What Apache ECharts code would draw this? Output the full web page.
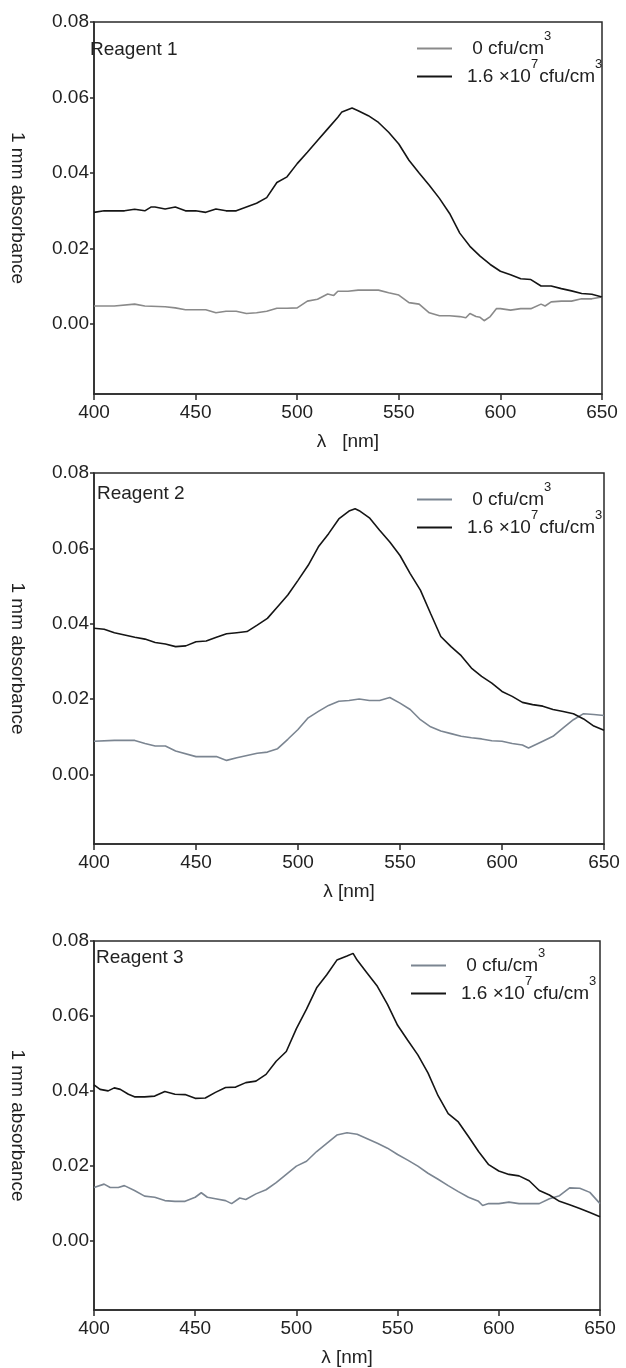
<!DOCTYPE html>
<html>
<head>
<meta charset="utf-8">
<script src="https://cdn.jsdelivr.net/npm/echarts@6/dist/echarts.min.js"></script>
<style>
html,body{margin:0;padding:0;background:#fff;}
#c{width:626px;height:1368px;}
</style>
</head>
<body>
<div id="c"></div>
<script>
// ---- data (wavelength nm, 1 mm absorbance) ----
const xTicks = [400, 450, 500, 550, 600, 650];
const yTicks = [0, 0.02, 0.04, 0.06, 0.08];
const panelTitles = ['Reagent 1', 'Reagent 2', 'Reagent 3'];
const seriesLabels = ['0 cfu/cm3', '1.6 ×10^7 cfu/cm3'];

const reagent1_zero = [[400,0.0048],[410,0.0048],[420,0.0053],[425,0.0048],[435,0.0046],[440,0.0043],[445,0.0038],[455,0.0038],[460,0.0030],[465,0.0034],[470,0.0034],[475,0.0028],[480,0.0030],[485,0.0034],[490,0.0042],[495,0.0042],[500,0.0043],[505,0.0061],[510,0.0066],[515,0.0080],[518,0.0076],[520,0.0087],[525,0.0087],[530,0.0090],[540,0.0090],[545,0.0083],[550,0.0077],[555,0.0057],[560,0.0053],[565,0.0030],[570,0.0022],[575,0.0022],[580,0.0020],[583,0.0017],[585,0.0028],[588,0.0020],[590,0.0018],[592,0.0009],[595,0.0020],[598,0.0041],[600,0.0041],[605,0.0037],[610,0.0041],[615,0.0041],[620,0.0053],[622,0.0048],[625,0.0059],[630,0.0061],[635,0.0061],[640,0.0067],[645,0.0067],[650,0.0072]];
const reagent1_high = [[400,0.0296],[405,0.0300],[410,0.0300],[415,0.0300],[420,0.0304],[425,0.0300],[428,0.0310],[430,0.0310],[435,0.0305],[440,0.0310],[445,0.0300],[450,0.0300],[455,0.0296],[460,0.0305],[465,0.0300],[470,0.0300],[475,0.0310],[480,0.0320],[485,0.0335],[490,0.0375],[495,0.0390],[500,0.0425],[505,0.0455],[510,0.0486],[515,0.0517],[520,0.0548],[522,0.0562],[527,0.0572],[530,0.0565],[535,0.0552],[540,0.0534],[545,0.0508],[550,0.0477],[555,0.0434],[560,0.0400],[565,0.0368],[570,0.0333],[575,0.0293],[580,0.0241],[585,0.0206],[590,0.0180],[595,0.0158],[600,0.0140],[605,0.0131],[610,0.0120],[615,0.0118],[620,0.0101],[625,0.0101],[630,0.0094],[635,0.0088],[640,0.0081],[645,0.0079],[650,0.0072]];

const reagent2_zero = [[400,0.0088],[410,0.0090],[420,0.0090],[425,0.0082],[430,0.0075],[435,0.0075],[440,0.0062],[450,0.0047],[460,0.0047],[465,0.0037],[470,0.0044],[475,0.0050],[480,0.0056],[485,0.0059],[490,0.0068],[495,0.0093],[500,0.0119],[505,0.0150],[510,0.0167],[515,0.0183],[520,0.0194],[525,0.0196],[530,0.0200],[535,0.0196],[540,0.0196],[545,0.0204],[550,0.0189],[555,0.0172],[560,0.0145],[565,0.0126],[570,0.0115],[575,0.0108],[580,0.0101],[585,0.0097],[590,0.0094],[595,0.0089],[600,0.0088],[605,0.0082],[610,0.0078],[613,0.0070],[620,0.0088],[625,0.0101],[630,0.0123],[635,0.0145],[640,0.0161],[645,0.0159],[650,0.0156]];
const reagent2_high = [[400,0.0388],[405,0.0385],[410,0.0376],[415,0.0370],[420,0.0364],[425,0.0359],[430,0.0350],[435,0.0346],[440,0.0339],[445,0.0341],[450,0.0352],[455,0.0354],[460,0.0364],[465,0.0373],[470,0.0376],[475,0.0379],[480,0.0396],[485,0.0414],[490,0.0445],[495,0.0476],[500,0.0515],[505,0.0555],[510,0.0604],[515,0.0639],[520,0.0678],[525,0.0699],[528,0.0705],[530,0.0700],[535,0.0681],[540,0.0648],[545,0.0617],[550,0.0581],[555,0.0533],[560,0.0489],[565,0.0427],[570,0.0366],[575,0.0339],[580,0.0315],[585,0.0282],[590,0.0260],[595,0.0242],[600,0.0220],[605,0.0207],[610,0.0191],[615,0.0185],[620,0.0181],[625,0.0172],[630,0.0167],[635,0.0161],[640,0.0147],[645,0.0128],[650,0.0117]];

const reagent3_zero = [[400,0.0142],[405,0.0151],[408,0.0142],[412,0.0142],[415,0.0147],[420,0.0134],[425,0.0119],[430,0.0116],[435,0.0107],[440,0.0105],[445,0.0105],[450,0.0116],[453,0.0128],[456,0.0116],[460,0.0112],[465,0.0107],[468,0.0099],[472,0.0114],[475,0.0110],[480,0.0125],[485,0.0136],[490,0.0155],[495,0.0177],[500,0.0199],[505,0.0212],[510,0.0238],[515,0.0260],[520,0.0282],[525,0.0288],[530,0.0284],[535,0.0272],[540,0.0260],[545,0.0247],[550,0.0230],[555,0.0215],[560,0.0199],[565,0.0180],[570,0.0164],[575,0.0147],[580,0.0131],[585,0.0116],[590,0.0105],[592,0.0094],[595,0.0099],[600,0.0099],[605,0.0103],[610,0.0099],[620,0.0099],[625,0.0112],[630,0.0120],[635,0.0141],[640,0.0140],[645,0.0129],[650,0.0099]];
const reagent3_high = [[400,0.0416],[403,0.0404],[407,0.0400],[410,0.0408],[413,0.0404],[417,0.0391],[420,0.0384],[425,0.0384],[430,0.0386],[435,0.0398],[440,0.0391],[445,0.0390],[450,0.0380],[455,0.0381],[460,0.0396],[465,0.0409],[470,0.0410],[475,0.0422],[480,0.0426],[485,0.0444],[490,0.0479],[495,0.0505],[500,0.0566],[505,0.0618],[510,0.0675],[515,0.0710],[520,0.0749],[525,0.0760],[528,0.0767],[530,0.0749],[535,0.0714],[540,0.0679],[545,0.0631],[550,0.0575],[555,0.0535],[560,0.0496],[565,0.0448],[570,0.0387],[575,0.0339],[580,0.0317],[585,0.0278],[590,0.0238],[595,0.0203],[600,0.0186],[605,0.0177],[610,0.0173],[615,0.0160],[620,0.0134],[625,0.0122],[630,0.0105],[635,0.0096],[640,0.0086],[645,0.0075],[650,0.0064]];

const zeroSeries = [reagent1_zero, reagent2_zero, reagent3_zero];
const highSeries = [reagent1_high, reagent2_high, reagent3_high];

// ---- layout / style ----
const FONT = '"Liberation Sans", Arial, Helvetica, sans-serif';
const TXT = '#222';
const AX = '#2a2a2a';
const grayColors = ['#8a8a8a', '#7b8591', '#7b8591'];
const blackColor = '#151515';
const grids = [
  {left: 84, top: 22, width: 518, height: 372},
  {left: 86, top: 473, width: 518, height: 371},
  {left: 84, top: 941, width: 516, height: 374}
];
const xNames = ['λ   [nm]', 'λ [nm]', 'λ [nm]'];
const titlePos = [[90, 40], [97, 484], [96, 948]];
const legendPos = [[417, 30], [417, 481], [411, 947]];

const rich = {
  a: {fontSize: 19, fontFamily: FONT, color: TXT, lineHeight: 22, padding: [0, 0, 0, 10]},
  b: {fontSize: 19, fontFamily: FONT, color: TXT, lineHeight: 22, padding: [0, 0, 0, 10]},
  n: {fontSize: 19, fontFamily: FONT, color: TXT, lineHeight: 22},
  c: {fontSize: 19, fontFamily: FONT, color: TXT, lineHeight: 22, padding: [0, 0, 0, 1]},
  s: {fontSize: 13, fontFamily: FONT, color: TXT, lineHeight: 13, padding: [0, 0, 24, 0]},
  t: {fontSize: 13, fontFamily: FONT, color: TXT, lineHeight: 13, padding: [0, 0, 24, 0]}
};

const option = {
  animation: false,
  backgroundColor: '#fff',
  title: [], legend: [], grid: [], xAxis: [], yAxis: [], series: []
};

for (let i = 0; i < 3; i++) {
  option.title.push({
    text: panelTitles[i], left: titlePos[i][0], top: titlePos[i][1], padding: 0,
    textStyle: {fontSize: 19, fontWeight: 'normal', color: TXT, fontFamily: FONT}
  });
  const nZero = seriesLabels[0] + ' · ' + panelTitles[i];
  const nHigh = seriesLabels[1] + ' · ' + panelTitles[i];
  option.legend.push({
    orient: 'vertical', left: legendPos[i][0], top: legendPos[i][1], padding: 0,
    itemGap: -9, itemWidth: 35, itemHeight: 2, icon: 'rect',
    selectedMode: false,
    data: [nZero, nHigh],
    formatter: function (name) {
      return name.indexOf(seriesLabels[0]) === 0
        ? '{a| 0 cfu/cm}{s|3}'
        : '{b|1.6 ×10}{t|7}{c|cfu/cm}{s|3}';
    },
    textStyle: {fontSize: 19, fontFamily: FONT, color: TXT, rich: rich}
  });
  option.grid.push(Object.assign({show: true, borderColor: AX, borderWidth: 1.5, backgroundColor: 'transparent'}, grids[i]));
  option.xAxis.push({
    type: 'value', gridIndex: i, min: 400, max: 650, interval: 50,
    name: xNames[i], nameLocation: 'middle', nameGap: 38,
    nameTextStyle: {fontSize: 19, color: TXT, fontFamily: FONT},
    axisLine: {show: true, onZero: false, lineStyle: {color: AX, width: 1.5}},
    axisTick: {show: true, inside: false, length: 6, lineStyle: {color: AX, width: 1.5}},
    axisLabel: {fontSize: 19, color: TXT, fontFamily: FONT, margin: 9},
    splitLine: {show: false}
  });
  option.yAxis.push({
    type: 'value', gridIndex: i, min: -0.0185, max: 0.08,
    name: '1 mm absorbance', nameLocation: 'middle', nameGap: 67, nameRotate: -90,
    nameTextStyle: {fontSize: 19, color: TXT, fontFamily: FONT},
    axisLine: {show: true, onZero: false, lineStyle: {color: AX, width: 1.5}},
    axisTick: {show: true, inside: false, length: 4, lineStyle: {color: AX, width: 1.5}, customValues: yTicks},
    axisLabel: {fontSize: 19, color: TXT, fontFamily: FONT, margin: 5, customValues: yTicks,
      formatter: v => v.toFixed(2)},
    splitLine: {show: false}
  });
  option.series.push({
    type: 'line', name: nZero, xAxisIndex: i, yAxisIndex: i, data: zeroSeries[i],
    symbol: 'none', color: grayColors[i], itemStyle: {color: grayColors[i]},
    lineStyle: {color: grayColors[i], width: 1.6}, z: 2
  });
  option.series.push({
    type: 'line', name: nHigh, xAxisIndex: i, yAxisIndex: i, data: highSeries[i],
    symbol: 'none', color: blackColor, itemStyle: {color: blackColor},
    lineStyle: {color: blackColor, width: 1.6}, z: 3
  });
}

const chart = echarts.init(document.getElementById('c'), null, {renderer: 'canvas'});
chart.setOption(option);
</script>
</body>
</html>
